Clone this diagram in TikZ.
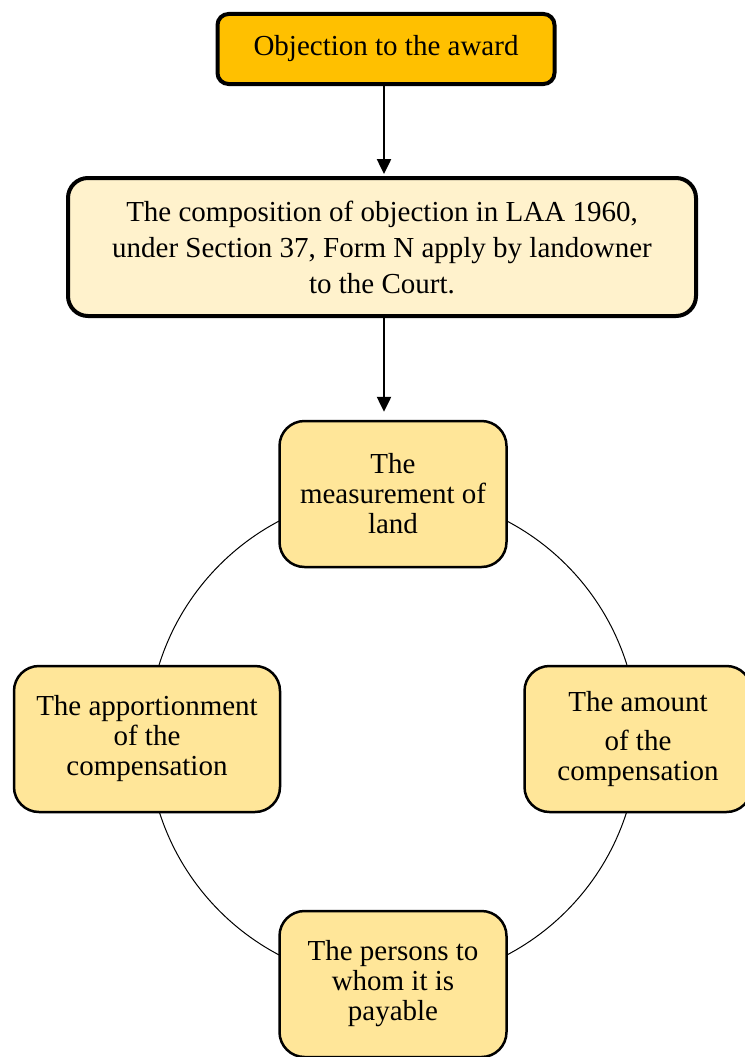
\documentclass[tikz,border=0pt]{standalone}
\usepackage{fontspec}
\setmainfont{Liberation Serif}
\usepackage{tikz}
\usetikzlibrary{arrows.meta}

\definecolor{awardgold}{HTML}{FFC000}
\definecolor{compcream}{HTML}{FFF2CC}
\definecolor{partyellow}{HTML}{FFE699}

\begin{document}
\begin{tikzpicture}[x=1pt, y=-1pt,
    topbox/.style={draw, line width=4pt, rounded corners=11pt, fill=awardgold,
      minimum width=337pt, minimum height=70pt, font=\fontsize{29}{30}\selectfont},
    compbox/.style={draw, line width=4pt, rounded corners=20pt, fill=compcream,
      minimum width=628pt, minimum height=138pt, align=center,
      font=\fontsize{29}{36}\selectfont},
    partbox/.style={draw, line width=2.5pt, rounded corners=25pt, fill=partyellow,
      minimum width=227pt, minimum height=146pt, align=center,
      font=\fontsize{29}{30}\selectfont},
    flow/.style={-{Triangle[length=15pt,width=14pt]}, line width=2.5pt}]
  \useasboundingbox (0,0) rectangle (744,1057);

  \node[topbox] (award) at (386,49) {Objection to the award};
  \node[compbox] (comp) at (382,247) {The composition of objection in LAA 1960,\\
    under Section 37, Form N apply by landowner\\ to the Court.};

  % cycle of the objection grounds
  \coordinate (c) at (393,738);
  \draw[line width=1pt] (c) circle[radius=245pt];
  \node[partbox] (land) at (393,494) {The\\ measurement of\\ land};
  \node[partbox] (amount) at (638,739) {The amount\\[9pt] of the\\ compensation};
  \node[partbox] (persons) at (393,984) {The persons to\\ whom it is\\ payable};
  \node[partbox, minimum width=266pt] (apport) at (147,739) {The apportionment\\ of the\\ compensation};

  \path[flow]
  (award.south -| 384,0) edge[shorten >=2pt] (comp.north -| 384,0)
  (comp.south -| 384,0) edge[shorten >=8pt] (land.north -| 384,0);
\end{tikzpicture}
\end{document}
